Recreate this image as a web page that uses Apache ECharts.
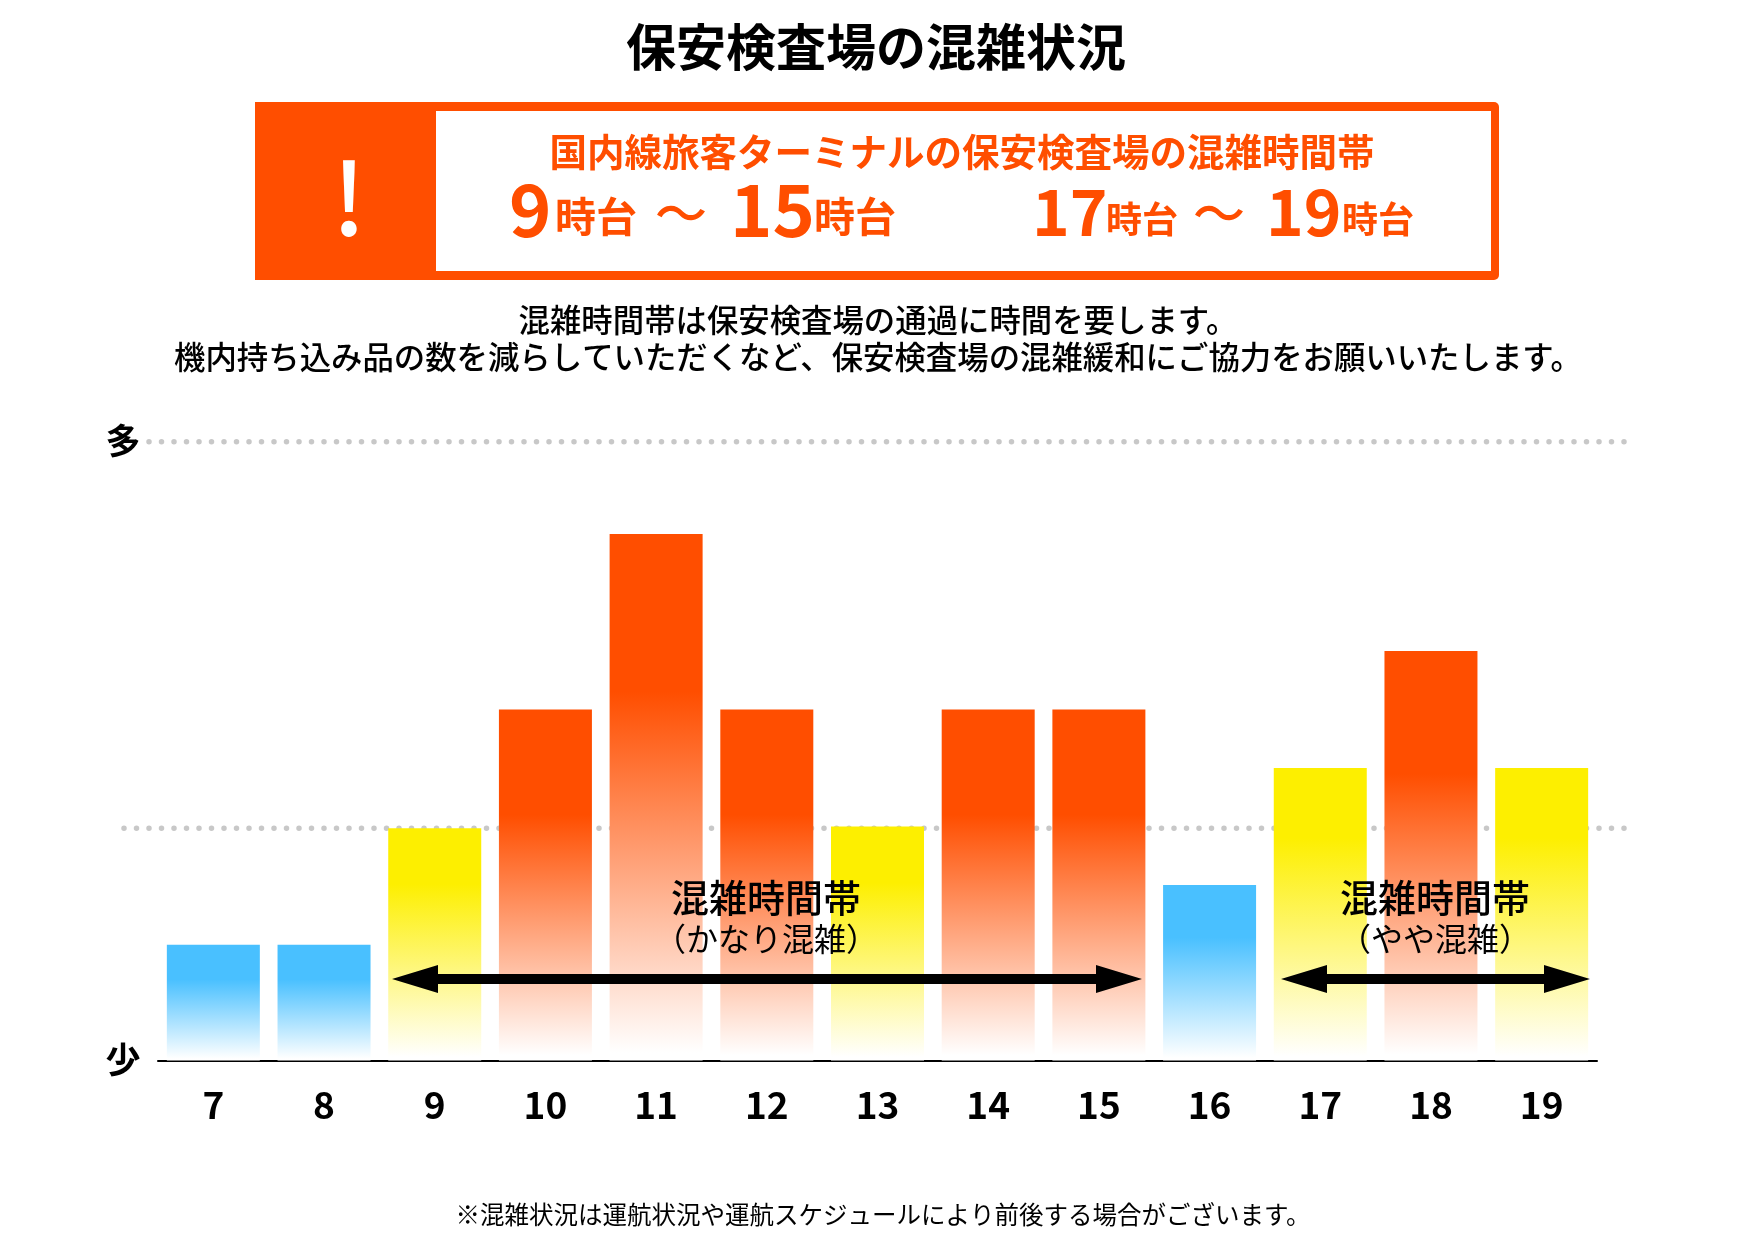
<!DOCTYPE html>
<html>
<head>
<meta charset="utf-8">
<title>保安検査場の混雑状況</title>
<script src="https://cdn.jsdelivr.net/npm/echarts@6/dist/echarts.min.js"></script>
<style>
  html, body { margin: 0; padding: 0; background: #fff; }
  #chart { width: 1755px; height: 1241px; }
</style>
</head>
<body>
<div id="chart"></div>
<script>
// 時間帯と混雑レベル
const hours = ['7', '8', '9', '10', '11', '12', '13', '14', '15', '16', '17', '18', '19'];
const levels = [1.98, 1.98, 3.97, 6, 9, 6, 4, 6, 6, 3, 5, 7, 5];
const kinds = ['low', 'low', 'mid', 'high', 'high', 'high', 'mid', 'high', 'high', 'low', 'mid', 'high', 'mid'];
const guideLevels = [3.97, 10.58];
const levelMax = 10.6;

const colors = { low: '#49c0ff', mid: '#fdef00', high: '#ff4e00' };
const solidPart = { low: 0.3, mid: 0.24, high: 0.3 };
const orange = '#ff4e00';
const jp = '"Noto Sans CJK JP"';

function fade(kind) {
  const c = colors[kind];
  return new echarts.graphic.LinearGradient(0, 0, 0, 1, [
    { offset: 0, color: c },
    { offset: solidPart[kind], color: c },
    { offset: 0.985, color: '#ffffff' },
    { offset: 1, color: '#ffffff' }
  ]);
}

function txt(text, x, y, size, weight, color, align) {
  return {
    type: 'text',
    z: 20,
    style: {
      text: text,
      x: x,
      y: y,
      fill: color || '#000',
      align: align || 'center',
      verticalAlign: 'middle',
      font: (weight || 400) + ' ' + size + 'px ' + jp
    }
  };
}

// 両矢印
function arrow(x1, x2, y) {
  return {
    type: 'polygon',
    z: 15,
    shape: {
      points: [
        [x1, y], [x1 + 46, y - 14], [x1 + 46, y - 5], [x2 - 46, y - 5], [x2 - 46, y - 14],
        [x2, y], [x2 - 46, y + 14], [x2 - 46, y + 5], [x1 + 46, y + 5], [x1 + 46, y + 14]
      ]
    },
    style: { fill: '#000' }
  };
}

const graphics = [
  txt('保安検査場の混雑状況', 876, 47, 50, 700),

  { type: 'rect', z: 10, shape: { x: 255, y: 102, width: 1244, height: 178, r: [0, 5, 5, 0] }, style: { fill: orange } },
  { type: 'rect', z: 11, shape: { x: 436, y: 111, width: 1055, height: 160 }, style: { fill: '#fff' } },
  txt('!', 349, 198, 100, 500, '#fff'),
  txt('国内線旅客ターミナルの保安検査場の混雑時間帯', 962, 152, 37.5, 700, orange),

  txt('9', 509, 210, 72, 700, orange, 'left'),
  txt('時台', 555, 216, 41, 700, orange, 'left'),
  txt('〜', 681, 213, 52, 500, orange),
  txt('15', 730, 210, 72, 700, orange, 'left'),
  txt('時台', 814, 216, 41, 700, orange, 'left'),
  txt('17', 1032, 212, 64, 700, orange, 'left'),
  txt('時台', 1106, 219, 36, 700, orange, 'left'),
  txt('〜', 1219, 213, 52, 500, orange),
  txt('19', 1266, 212, 64, 700, orange, 'left'),
  txt('時台', 1342, 219, 36, 700, orange, 'left'),

  txt('混雑時間帯は保安検査場の通過に時間を要します。', 878, 320, 31.4, 500),
  txt('機内持ち込み品の数を減らしていただくなど、保安検査場の混雑緩和にご協力をお願いいたします。', 878, 357, 31.4, 500),

  txt('多', 123, 441, 35, 700),
  txt('少', 123, 1060, 35, 700),

  arrow(392, 1142, 979),
  arrow(1281, 1590, 979),
  txt('混雑時間帯', 766, 898, 38, 500),
  txt('（かなり混雑）', 766, 939, 32, 400),
  txt('混雑時間帯', 1435, 898, 38, 500),
  txt('（やや混雑）', 1435, 939, 32, 400),

  txt('※混雑状況は運航状況や運航スケジュールにより前後する場合がございます。', 883, 1215, 24.5, 400)
];

const chart = echarts.init(document.getElementById('chart'));
chart.setOption({
  animation: false,
  backgroundColor: '#fff',
  grid: { left: 158, right: 158, top: 440.5, bottom: 180.5 },
  xAxis: {
    type: 'category',
    data: hours,
    axisTick: { show: false },
    axisLine: { lineStyle: { color: '#000', width: 2 } },
    axisLabel: {
      margin: 26,
      color: '#000',
      fontFamily: jp,
      fontSize: 37,
      fontWeight: 700,
      interval: 0
    }
  },
  yAxis: { type: 'value', min: 0, max: levelMax, show: false },
  series: [
    {
      type: 'custom',
      z: 1,
      clip: false,
      data: guideLevels.map(function (v) { return [0, v]; }),
      renderItem: function (params, api) {
        const v = api.value(1);
        const y = api.coord([0, v])[1];
        return {
          type: 'line',
          shape: { x1: v > 5 ? 149 : 124, y1: y, x2: 1632, y2: y },
          style: { stroke: '#c8c8c8', lineWidth: 5.5, lineDash: [0, 12.5], lineCap: 'round' }
        };
      }
    },
    {
      type: 'bar',
      z: 2,
      barWidth: 93,
      data: levels.map(function (v, i) {
        return { value: v, itemStyle: { color: fade(kinds[i]) } };
      })
    }
  ],
  graphic: graphics
});
</script>
</body>
</html>
